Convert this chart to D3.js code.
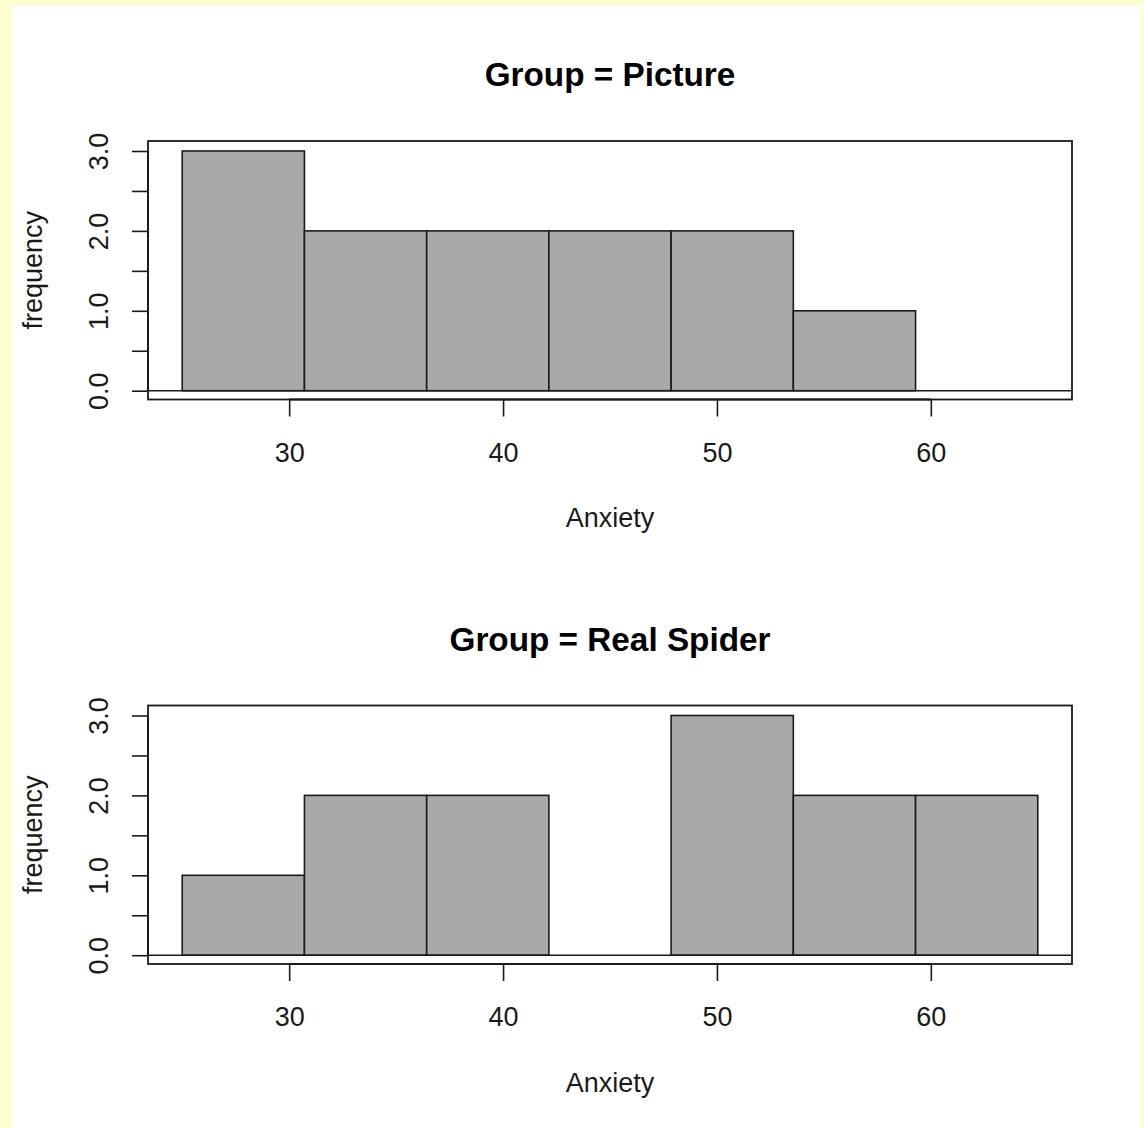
<!DOCTYPE html>
<html>
<head>
<meta charset="utf-8">
<script src="https://cdn.jsdelivr.net/npm/d3@7"></script>
<style>
  html, body { margin: 0; padding: 0; background: #FEFDD0; }
  svg { display: block; }
</style>
</head>
<body>
<script>
// Histogram bin edges shared by both groups (7 equal bins from 25 to 65)
const breaks = [25, 30.714, 36.429, 42.143, 47.857, 53.571, 59.286, 65];
// Counts per bin for each group
const pictureCounts = [3, 2, 2, 2, 2, 1, 0];
const spiderCounts  = [1, 2, 2, 0, 3, 2, 2];
const groupTitles = ["Group = Picture", "Group = Real Spider"];
const xTicks = [30, 40, 50, 60];
const yTicks = [0, 0.5, 1, 1.5, 2, 2.5, 3];
const yTickLabels = ["0.0", "1.0", "2.0", "3.0"];
const xLabel = "Anxiety";
const yLabel = "frequency";

const W = 1144, H = 1128;
const svg = d3.select("body").append("svg").attr("width", W).attr("height", H);

// white page on cream surround
svg.append("rect").attr("x", 12).attr("y", 5).attr("width", 1129).attr("height", H - 5).attr("fill", "#ffffff");

const font = "'Liberation Sans', Arial, sans-serif";
const ink = "#1a1a1a";
const box = { left: 148, right: 1072, top: 141, bottom: 399.5 };
const panelOffset = 564.5;

const x = d3.scaleLinear().domain([23.4, 66.6]).range([box.left, box.right]);

[pictureCounts, spiderCounts].forEach((counts, p) => {
  const dy = p * panelOffset;
  const g = svg.append("g").attr("transform", `translate(0,${dy})`);
  const y = d3.scaleLinear().domain([-0.11, 3.125]).range([box.bottom, box.top]);

  // bars
  const bins = counts.map((c, i) => ({ x0: breaks[i], x1: breaks[i + 1], c }));
  g.selectAll("rect.bar").data(bins).enter().append("rect")
    .attr("class", "bar")
    .attr("x", d => x(d.x0))
    .attr("width", d => x(d.x1) - x(d.x0))
    .attr("y", d => y(d.c))
    .attr("height", d => y(0) - y(d.c))
    .attr("fill", "#a9a9a9")
    .attr("stroke", ink)
    .attr("stroke-width", 1.6);

  // zero reference line across the plot region
  g.append("line")
    .attr("x1", box.left).attr("x2", box.right)
    .attr("y1", y(0)).attr("y2", y(0))
    .attr("stroke", ink).attr("stroke-width", 1.6);

  // plot box
  g.append("rect")
    .attr("x", box.left).attr("y", box.top)
    .attr("width", box.right - box.left).attr("height", box.bottom - box.top)
    .attr("fill", "none").attr("stroke", ink).attr("stroke-width", 1.8);

  // x axis
  const xAxis = d3.axisBottom(x).tickValues(xTicks).tickSize(17).tickPadding(26)
    .tickFormat(d3.format("d"));
  const gx = g.append("g").attr("transform", `translate(0,${box.bottom})`).call(xAxis);
  gx.select(".domain").attr("d", `M${x(xTicks[0])},0H${x(xTicks[xTicks.length - 1])}`)
    .attr("stroke", ink).attr("stroke-width", 1.8);
  gx.selectAll(".tick line").attr("stroke", ink).attr("stroke-width", 1.6);
  gx.selectAll(".tick text").attr("font-family", font).attr("font-size", 27)
    .attr("fill", ink).attr("dy", null).attr("y", 62);

  // y axis
  const yAxis = d3.axisLeft(y).tickValues(yTicks).tickSize(16)
    .tickFormat(d => (Number.isInteger(d) ? yTickLabels[d] : ""));
  const gy = g.append("g").attr("transform", `translate(${box.left},0)`).call(yAxis);
  gy.select(".domain").attr("d", `M0,${y(yTicks[0])}V${y(yTicks[yTicks.length - 1])}`)
    .attr("stroke", ink).attr("stroke-width", 1.8);
  gy.selectAll(".tick line").attr("stroke", ink).attr("stroke-width", 1.6);
  gy.selectAll(".tick text")
    .attr("font-family", font).attr("font-size", 27).attr("fill", ink)
    .attr("x", null).attr("dy", null)
    .attr("text-anchor", "middle")
    .attr("transform", "translate(-40,0) rotate(-90)");

  // title
  g.append("text")
    .attr("x", (box.left + box.right) / 2).attr("y", 86)
    .attr("text-anchor", "middle")
    .attr("font-family", font).attr("font-size", 33.3).attr("font-weight", "bold")
    .attr("fill", "#000").text(groupTitles[p]);

  // axis titles
  g.append("text")
    .attr("x", (box.left + box.right) / 2).attr("y", 527)
    .attr("text-anchor", "middle")
    .attr("font-family", font).attr("font-size", 27).attr("fill", ink)
    .text(xLabel);
  g.append("text")
    .attr("transform", `translate(42,${(box.top + box.bottom) / 2}) rotate(-90)`)
    .attr("text-anchor", "middle")
    .attr("font-family", font).attr("font-size", 27).attr("fill", ink)
    .text(yLabel);
});
</script>
</body>
</html>
